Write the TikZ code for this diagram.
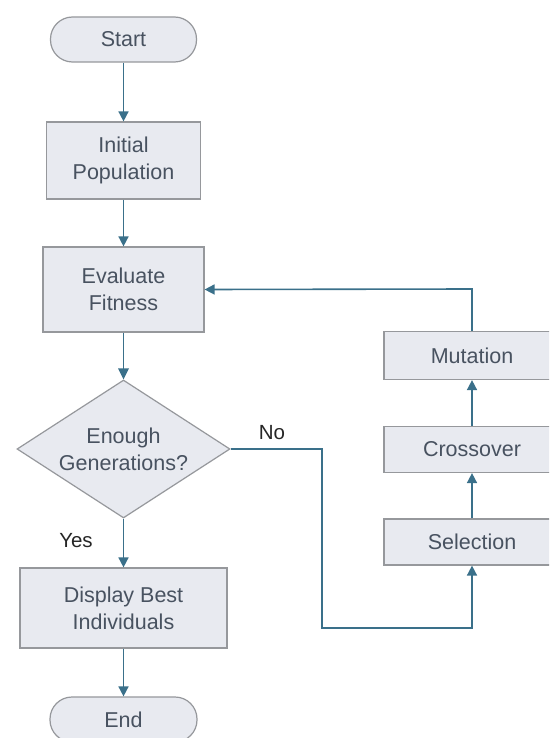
\documentclass[tikz,border=0pt]{standalone}
\usepackage{fontspec}
\setmainfont{Liberation Sans}
\usetikzlibrary{shapes.geometric,arrows.meta}
\definecolor{boxfill}{RGB}{232,234,240}
\definecolor{boxline}{RGB}{150,152,156}
\definecolor{txt}{RGB}{72,82,96}
\definecolor{conncol}{RGB}{58,112,138}
\tikzset{
  base/.style={draw=boxline, fill=boxfill, line width=1.2pt, text=txt, align=center,
    font=\fontsize{21.5}{27}\selectfont, inner sep=0pt},
  procbox/.style={base, rectangle},
  termbox/.style={base, rectangle, rounded corners=22pt},
  decbox/.style={base, diamond, aspect=1.54},
  connline/.style={draw=conncol, line width=1.6pt},
  conn/.style={connline, -{Triangle[width=10pt,length=10pt]}},
  lbl/.style={text=black!85, font=\fontsize{20.5}{24}\selectfont}
}
\begin{document}
\begin{tikzpicture}[x=1pt,y=-1pt]
\useasboundingbox (0,0) rectangle (549,738);
\clip (0,0) rectangle (549,738);
\fill[white] (0,0) rectangle (549,738);
\node[termbox, minimum width=146pt, minimum height=45pt] (start) at (123.5,39.5) {Start};
\node[procbox, minimum width=154pt, minimum height=77pt] (init) at (123.5,160.5) {Initial\\Population};
\node[procbox, minimum width=161pt, minimum height=85pt] (eval) at (123.5,289.5) {Evaluate\\Fitness};
\node[decbox, minimum width=213pt, minimum height=138pt] (dec) at (123.5,449) {Enough\\Generations?};
\node[procbox, minimum width=207pt, minimum height=80pt] (disp) at (123.5,608) {Display Best\\Individuals};
\node[termbox, minimum width=147pt, minimum height=45pt] (end) at (123.5,719.5) {End};
\node[procbox, minimum width=176pt, minimum height=48pt] (mut) at (472,355.5) {Mutation};
\node[procbox, minimum width=176pt, minimum height=46pt] (cross) at (472,449.5) {Crossover};
\node[procbox, minimum width=176pt, minimum height=46pt] (sel) at (472,542) {Selection};
\coordinate (nocorner) at (322,449);
\coordinate (nobottom) at (322,628);
\coordinate (selbottom) at (472,628);
\coordinate (mutup) at (472,289);
\draw[conn] (start.south) -- (init.north);
\draw[conn] (init.south) -- (eval.north);
\draw[connline] (eval.south) -- (dec.north);
\fill[fill=conncol] (dec.north) -- ++(-5.5,-11) -- ++(11,0) -- cycle;
\draw[conn] (dec.south) -- (disp.north);
\draw[conn] (disp.south) -- (end.north);
\draw[conn] (dec.east) -- (nocorner) -- (nobottom) -- (selbottom) -- (sel.south);
\draw[conn] (sel.north) -- (cross.south);
\draw[conn] (cross.north) -- (mut.south);
\draw[conn] (mut.north) -- (mutup) -- (eval.east);
\node[lbl] (nolbl) at (272,433) {No};
\node[lbl] (yeslbl) at (76,541) {Yes};
\end{tikzpicture}
\end{document}
